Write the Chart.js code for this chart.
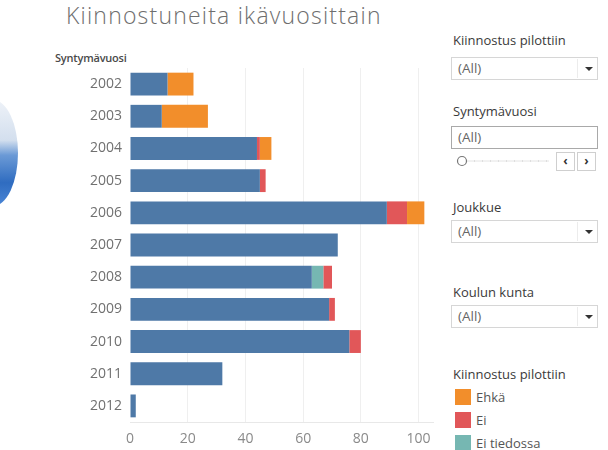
<!DOCTYPE html>
<html lang="fi">
<head>
<meta charset="utf-8">
<title>Kiinnostuneita ikävuosittain</title>
<script src="https://cdn.jsdelivr.net/npm/chart.js@4/dist/chart.umd.min.js"></script>
<style>
  html, body { margin: 0; padding: 0; background: #fff; }
  body { width: 608px; height: 450px; position: relative; overflow: hidden; font-family: "Open Sans", "DejaVu Sans", sans-serif; }
  #chartBox { position: absolute; left: 0; top: 0; width: 440px; height: 450px; }
  .abs { position: absolute; white-space: nowrap; }
  #title { left: 66px; top: -1px; font-size: 23px; color: #6e6e6e; letter-spacing: 1.2px; font-weight: 300; }
  #axisTitle { left: 55px; top: 50px; font-size: 11px; color: #4a4a4a; font-weight: 600; letter-spacing: -0.2px; }
  #logo { left: -32px; top: 100px; width: 50px; height: 106px; border-radius: 50%;
          background: linear-gradient(180deg, #eef2f8 0%, #d3dfee 38%, #6b9ad6 52%, #2f6cc0 78%, #4b86d6 100%); }
  .lbl { font-size: 13px; color: #3a3a3a; left: 453px; }
  .box { left: 451px; width: 145px; height: 21px; border: 1px solid #d6d6d6; background: #fff; }
  .box span { position: absolute; left: 6px; top: 1px; font-size: 13.5px; color: #666; }
  .box .sep { position: absolute; left: 125px; top: 1px; width: 1px; height: 19px; background: #ececec; }
  .box .arr { position: absolute; left: 133px; top: 9px; width: 0; height: 0;
              border-left: 4px solid transparent; border-right: 4px solid transparent; border-top: 4px solid #333; }
  .tbox { border-color: #a9a9a9; }
  .btn { top: 152px; width: 17px; height: 17px; border: 1px solid #cfcfcf; background: #fff; font-size: 12px; color: #333; text-align: center; line-height: 16px; font-weight: 700; }
  .sw { left: 455px; width: 16px; height: 16px; }
  .it { left: 476px; font-size: 13px; color: #555; }
</style>
</head>
<body>
<div id="logo" class="abs"></div>
<div id="title" class="abs">Kiinnostuneita ikävuosittain</div>
<div id="axisTitle" class="abs">Syntymävuosi</div>
<div id="chartBox"><canvas id="chart"></canvas></div>

<!-- filter panel -->
<div class="abs lbl" style="top:31px">Kiinnostus pilottiin</div>
<div class="abs box" style="top:57px"><span>(All)</span><div class="sep"></div><div class="arr"></div></div>

<div class="abs lbl" style="top:102px">Syntymävuosi</div>
<div class="abs box tbox" style="top:126px"><span>(All)</span></div>
<svg class="abs" style="left:455px; top:154px" width="96" height="14">
  <line x1="11" y1="7" x2="94" y2="7" stroke="#d8d8d8" stroke-width="2" stroke-dasharray="1 7"/>
  <line x1="11" y1="7" x2="94" y2="7" stroke="#e4e4e4" stroke-width="1"/>
  <circle cx="7" cy="7" r="4.5" fill="#fff" stroke="#777" stroke-width="1.2"/>
</svg>
<div class="abs btn" style="left:556px">&lsaquo;</div>
<div class="abs btn" style="left:577px">&rsaquo;</div>

<div class="abs lbl" style="top:198px">Joukkue</div>
<div class="abs box" style="top:220px"><span>(All)</span><div class="sep"></div><div class="arr"></div></div>

<div class="abs lbl" style="top:283px">Koulun kunta</div>
<div class="abs box" style="top:305px"><span>(All)</span><div class="sep"></div><div class="arr"></div></div>

<div class="abs lbl" style="top:365px">Kiinnostus pilottiin</div>
<div class="abs sw" style="top:389px; background:#f28e2b"></div>
<div class="abs it" style="top:388px">Ehkä</div>
<div class="abs sw" style="top:412px; background:#e15759"></div>
<div class="abs it" style="top:411px">Ei</div>
<div class="abs sw" style="top:435px; background:#76b7b2"></div>
<div class="abs it" style="top:434px">Ei tiedossa</div>

<script>
// Birth years on the category axis
const years = ['2002', '2003', '2004', '2005', '2006', '2007', '2008', '2009', '2010', '2011', '2012'];

// Interested players per birth year, split by answer
const kylla      = [13, 11, 44, 45, 89, 72, 63, 69, 76, 32, 2];
const eiTiedossa = [0, 0, 0, 0, 0, 0, 4, 0, 0, 0, 0];
const ei         = [0, 0, 1, 2, 7, 0, 3, 2, 4, 0, 0];
const ehka       = [9, 16, 4, 0, 6, 0, 0, 0, 0, 0, 0];

// Value axis ticks
const xTicks = [0, 20, 40, 60, 80, 100];

const colors = { kylla: '#4e79a7', eiTiedossa: '#76b7b2', ei: '#e15759', ehka: '#f28e2b' };

const mk = (label, data, color) => ({
  label, data, backgroundColor: color, borderWidth: 0,
  categoryPercentage: 1.0, barPercentage: 0.71
});

new Chart(document.getElementById('chart'), {
  type: 'bar',
  data: {
    labels: years,
    datasets: [
      mk('Kyllä', kylla, colors.kylla),
      mk('Ei tiedossa', eiTiedossa, colors.eiTiedossa),
      mk('Ei', ei, colors.ei),
      mk('Ehkä', ehka, colors.ehka)
    ]
  },
  options: {
    indexAxis: 'y',
    responsive: true,
    maintainAspectRatio: false,
    animation: false,
    layout: { padding: { top: 68, right: 7, left: 0, bottom: 0 } },
    plugins: { legend: { display: false }, tooltip: { enabled: false } },
    scales: {
      x: {
        stacked: true,
        min: 0,
        max: 105,
        afterBuildTicks: (s) => { s.ticks = xTicks.map(v => ({ value: v })); },
        afterFit: (s) => { s.height = 28; },
        grid: {
          drawTicks: false,
          color: (ctx) => ctx.tick && ctx.tick.value === 0 ? 'rgba(0,0,0,0)' : '#efefef'
        },
        border: { display: true, color: '#e8e8e8' },
        ticks: { padding: 9, color: '#8a8a8a', font: { family: 'Open Sans', size: 14 } }
      },
      y: {
        stacked: true,
        afterFit: (s) => { s.width = 130; },
        grid: { display: false, drawTicks: false },
        border: { display: false },
        ticks: { padding: 8, color: '#707070', font: { family: 'Open Sans', size: 14 } }
      }
    }
  }
});
</script>
</body>
</html>
